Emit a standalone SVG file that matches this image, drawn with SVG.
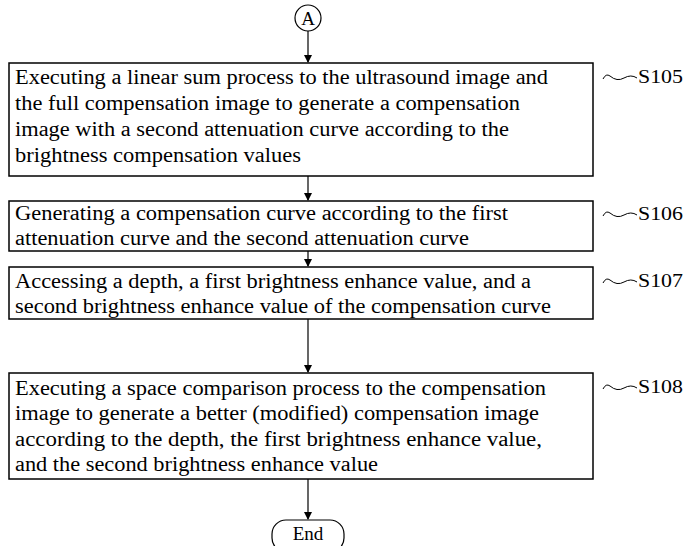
<svg xmlns="http://www.w3.org/2000/svg" width="685" height="546" viewBox="0 0 685 546">
<style>
.box{fill:#fff;stroke:#000;stroke-width:1.5}
.t{font-family:"Liberation Serif","Times New Roman",serif;font-size:20px;fill:#000}
.lbl{font-family:"Liberation Serif","Times New Roman",serif;font-size:19px;fill:#000}
.c{stroke:#000;stroke-width:1.2;fill:none}
.sq{stroke:#000;stroke-width:1;fill:none}
</style>
<defs>
<marker id="ah" markerWidth="8" markerHeight="10" refX="7" refY="4" orient="auto" markerUnits="userSpaceOnUse">
<path d="M0,0 L8,4 L0,8 z" fill="#000"/>
</marker>
</defs>
<g id="connectors">
<line class="c" x1="308" y1="31" x2="308" y2="62" marker-end="url(#ah)"/>
<line class="c" x1="308" y1="176" x2="308" y2="200" marker-end="url(#ah)"/>
<line class="c" x1="308" y1="251" x2="308" y2="266" marker-end="url(#ah)"/>
<line class="c" x1="308" y1="319" x2="308" y2="372" marker-end="url(#ah)"/>
<line class="c" x1="308" y1="479" x2="308" y2="519" marker-end="url(#ah)"/>
</g>
<g id="startA">
<circle cx="308" cy="18" r="13" fill="#fff" stroke="#000" stroke-width="1.2"/>
<text class="lbl" x="308" y="25" text-anchor="middle">A</text>
</g>
<g id="S105">
<rect class="box" x="9" y="63" width="584" height="113"/>
<text class="t" x="15" y="84" textLength="533" lengthAdjust="spacingAndGlyphs">Executing a linear sum process to the ultrasound image and</text>
<text class="t" x="15" y="110" textLength="505" lengthAdjust="spacingAndGlyphs">the full compensation image to generate a compensation</text>
<text class="t" x="15" y="136" textLength="494" lengthAdjust="spacingAndGlyphs">image with a second attenuation curve according to the</text>
<text class="t" x="15" y="162" textLength="286" lengthAdjust="spacingAndGlyphs">brightness compensation values</text>
<path class="sq" d="M603,79 q3,-6 7,-3 q7,6 14,2 q7,-4 13,0"/>
<text class="lbl" x="638" y="83" textLength="45" lengthAdjust="spacingAndGlyphs">S105</text>
</g>
<g id="S106">
<rect class="box" x="9" y="201" width="584" height="50"/>
<text class="t" x="15" y="220" textLength="493" lengthAdjust="spacingAndGlyphs">Generating a compensation curve according to the first</text>
<text class="t" x="15" y="245" textLength="454" lengthAdjust="spacingAndGlyphs">attenuation curve and the second attenuation curve</text>
<path class="sq" d="M603,216 q3,-6 7,-3 q7,6 14,2 q7,-4 13,0"/>
<text class="lbl" x="638" y="220" textLength="45" lengthAdjust="spacingAndGlyphs">S106</text>
</g>
<g id="S107">
<rect class="box" x="9" y="267" width="584" height="52"/>
<text class="t" x="15" y="288" textLength="516" lengthAdjust="spacingAndGlyphs">Accessing a depth, a first brightness enhance value, and a</text>
<text class="t" x="15" y="313" textLength="536" lengthAdjust="spacingAndGlyphs">second brightness enhance value of the compensation curve</text>
<path class="sq" d="M603,283 q3,-6 7,-3 q7,6 14,2 q7,-4 13,0"/>
<text class="lbl" x="638" y="287" textLength="45" lengthAdjust="spacingAndGlyphs">S107</text>
</g>
<g id="S108">
<rect class="box" x="9" y="373" width="584" height="106"/>
<text class="t" x="15" y="395" textLength="531" lengthAdjust="spacingAndGlyphs">Executing a space comparison process to the compensation</text>
<text class="t" x="15" y="420" textLength="524" lengthAdjust="spacingAndGlyphs">image to generate a better (modified) compensation image</text>
<text class="t" x="15" y="446" textLength="527" lengthAdjust="spacingAndGlyphs">according to the depth, the first brightness enhance value,</text>
<text class="t" x="15" y="471" textLength="363" lengthAdjust="spacingAndGlyphs">and the second brightness enhance value</text>
<path class="sq" d="M603,389 q3,-6 7,-3 q7,6 14,2 q7,-4 13,0"/>
<text class="lbl" x="638" y="393" textLength="45" lengthAdjust="spacingAndGlyphs">S108</text>
</g>
<g id="end">
<rect x="272" y="520" width="72" height="32" rx="14" fill="#fff" stroke="#000" stroke-width="1.2"/>
<text class="lbl" x="308" y="540" text-anchor="middle">End</text>
</g>
</svg>
